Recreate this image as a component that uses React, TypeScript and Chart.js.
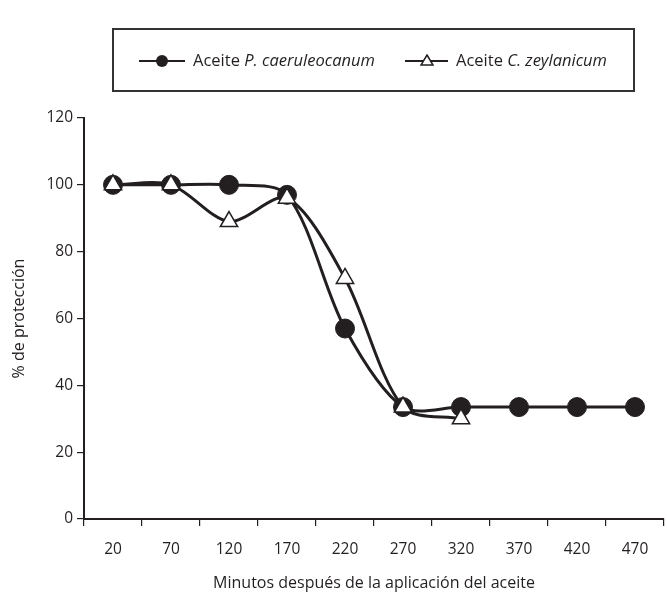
import React, { useEffect, useRef } from "react";
import { Chart, registerables } from "chart.js";

Chart.register(...registerables);

const categories = ["20", "70", "120", "170", "220", "270", "320", "370", "420", "470"];
const pCaeruleocanum = [100, 100, 100, 97, 57, 33.5, 33.5, 33.5, 33.5, 33.5];
const cZeylanicum: (number | null)[] = [100, 100, 89, 96, 72, 33.5, 30, null, null, null];
const yTicks = [0, 20, 40, 60, 80, 100, 120];

const INK = "#231f20";
const FONT = "'Open Sans', 'DejaVu Sans', sans-serif";

export default function App() {
  const ref = useRef<HTMLCanvasElement>(null);
  useEffect(() => {
    if (!ref.current) return;
    const chart = new Chart(ref.current, {
      type: "line",
      data: {
        labels: categories,
        datasets: [
          {
            label: "Aceite C. zeylanicum",
            data: cZeylanicum,
            borderColor: INK,
            borderWidth: 3,
            tension: 0.3,
            pointStyle: "triangle",
            pointRadius: 10,
            pointBackgroundColor: "#ffffff",
            pointBorderColor: INK,
            pointBorderWidth: 1.5,
            spanGaps: false,
            order: 0,
          },
          {
            label: "Aceite P. caeruleocanum",
            data: pCaeruleocanum,
            borderColor: INK,
            borderWidth: 3,
            tension: 0.3,
            pointStyle: "circle",
            pointRadius: 9.5,
            pointBackgroundColor: INK,
            pointBorderColor: INK,
            pointBorderWidth: 1,
            order: 1,
          },
        ],
      },
      options: {
        animation: false,
        responsive: false,
        layout: { autoPadding: false, padding: { top: 118, right: 3, left: 0, bottom: 0 } },
        plugins: { legend: { display: false }, tooltip: { enabled: false } },
        scales: {
          x: {
            offset: true,
            grid: { offset: true, drawOnChartArea: false, drawTicks: true, tickLength: 7, color: INK, lineWidth: 1.2 },
            border: { display: true, color: INK, width: 2 },
            ticks: { color: INK, font: { family: FONT, size: 15.5 }, padding: 14, maxRotation: 0 },
            title: {
              display: true,
              text: "Minutos después de la aplicación del aceite",
              color: INK,
              font: { family: FONT, size: 16 },
              padding: { top: 8, bottom: 0 },
            },
            afterFit: (s: any) => { s.height = 74; s.paddingLeft = 0; s.paddingRight = 0; },
          },
          y: {
            min: 0,
            max: 120,
            afterBuildTicks: (s: any) => { s.ticks = yTicks.map((v) => ({ value: v })); },
            grid: { drawOnChartArea: false, drawTicks: true, tickLength: 7, color: INK, lineWidth: 1.2 },
            border: { display: true, color: INK, width: 2 },
            ticks: { color: INK, font: { family: FONT, size: 15.5 }, padding: 4 },
            title: {
              display: true,
              text: "% de protección",
              color: INK,
              font: { family: FONT, size: 16 },
              padding: { top: 10, bottom: 6 },
            },
            afterFit: (s: any) => { s.width = 84; },
          },
        },
      },
    });
    return () => chart.destroy();
  }, []);

  const textStyle: React.CSSProperties = { fontFamily: FONT, fontSize: 16.5, color: INK, whiteSpace: "nowrap" };

  return (
    <div style={{ position: "fixed", left: 0, top: 0, width: 667, height: 593, background: "#fff" }}>
      <canvas ref={ref} width={667} height={593} style={{ position: "absolute", left: 0, top: 0, width: 667, height: 593 }} />
      <div
        style={{
          position: "absolute",
          left: 112,
          top: 28,
          width: 519,
          height: 60,
          border: "2px solid #333",
          boxSizing: "content-box",
        }}
      >
        <div style={{ position: "absolute", left: 25, top: 30, width: 46, height: 2, background: INK }} />
        <div style={{ position: "absolute", left: 42, top: 25, width: 12, height: 12, borderRadius: 6, background: INK }} />
        <div style={{ ...textStyle, position: "absolute", left: 79, top: 18 }}>
          Aceite <i>P. caeruleocanum</i>
        </div>
        <div style={{ position: "absolute", left: 291, top: 30, width: 43, height: 2, background: INK }} />
        <svg style={{ position: "absolute", left: 306, top: 24 }} width={14} height={12}>
          <polygon points="7,1 13,11 1,11" fill="#fff" stroke={INK} strokeWidth={1.5} />
        </svg>
        <div style={{ ...textStyle, position: "absolute", left: 342, top: 18 }}>
          Aceite <i>C. zeylanicum</i>
        </div>
      </div>
    </div>
  );
}
